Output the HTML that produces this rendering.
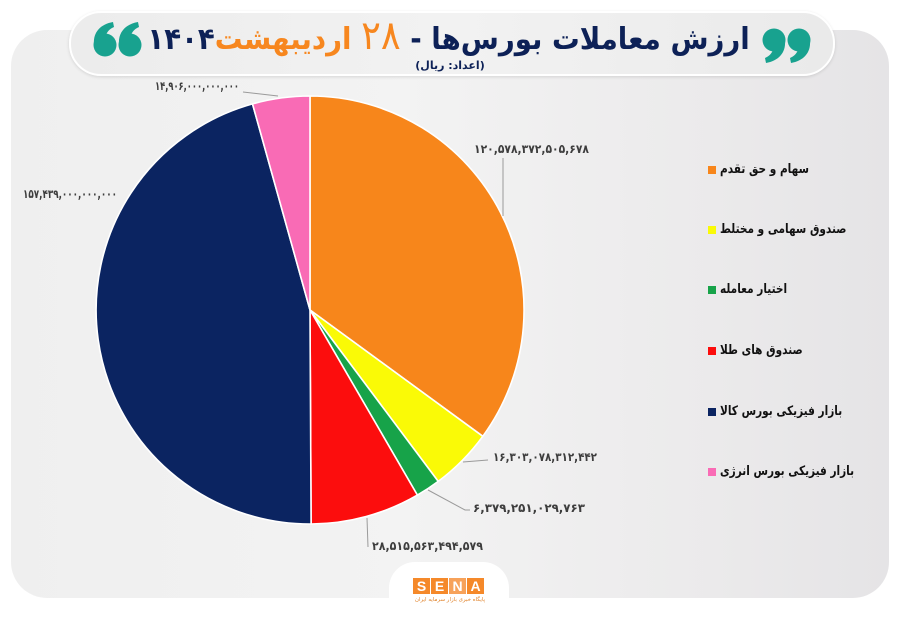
<!DOCTYPE html>
<html>
<head>
<meta charset="utf-8">
<style>
  html,body{margin:0;padding:0;background:#fff;}
  body{width:900px;height:623px;position:relative;overflow:hidden;font-family:"DejaVu Sans","Liberation Sans",sans-serif;}
  .card{position:absolute;left:11px;top:30px;width:878px;height:568px;border-radius:36px;
    background:linear-gradient(90deg,#efefef 0%,#f3f3f3 45%,#ebeaeb 80%,#e5e4e6 100%);}
  .pill{position:absolute;left:69px;top:11px;width:762px;height:61px;border-radius:32px;
    background:linear-gradient(90deg,#ececec,#f2f2f2 50%,#eaeaea);border:2px solid #fff;
    box-shadow:0 1px 3px rgba(0,0,0,0.12);}
  .title{position:absolute;right:150px;top:14px;direction:rtl;white-space:nowrap;
    font-weight:bold;font-size:30px;color:#0d2157;line-height:44px;
    transform:scaleX(0.92);transform-origin:right center;}
  .title .o{color:#f7871f;}
  .title .big{font-size:40px;font-weight:normal;color:#f7871f;}
  .sub{position:absolute;left:0;width:900px;top:59px;text-align:center;direction:rtl;
    font-size:11px;font-weight:bold;color:#0d2157;}
  .leg{position:absolute;left:708px;height:16px;white-space:nowrap;}
  .leg i{position:absolute;left:0;top:4px;width:8px;height:8px;}
  .leg span{position:absolute;left:12px;top:0;direction:rtl;font-size:13px;font-weight:bold;color:#111;line-height:16px;
    transform:scaleX(0.81);transform-origin:left center;}
  .logo{position:absolute;left:389px;top:562px;width:120px;height:70px;border-radius:26px;background:#fff;}
  .sena{position:absolute;top:578px;height:16px;width:17px;background:#f5892a;color:#fff;font-family:"Liberation Sans",sans-serif;
    font-weight:bold;font-size:14px;line-height:16px;text-align:center;}
  .tag{position:absolute;left:0;width:900px;top:597px;text-align:center;direction:rtl;font-size:5.5px;color:#e0822a;}
</style>
</head>
<body>
<div class="card"></div>
<div class="pill"></div>

<svg width="900" height="623" style="position:absolute;left:0;top:0">
  <!-- quote marks left (66) -->
  <g fill="#18a28f">
    <circle cx="105" cy="45" r="11.5"/>
    <path d="M94,44 C93,32 101,24 113,22 L114,27 C107,30 104,36 106,44 Z"/>
    <circle cx="130" cy="45" r="11.5"/>
    <path d="M119,44 C118,32 126,24 138,22 L139,27 C132,30 129,36 131,44 Z"/>
  </g>
  <!-- quote marks right (99) -->
  <g fill="#18a28f">
    <circle cx="774" cy="40" r="11.5"/>
    <path d="M785,41 C786,53 778,61 766,63 L765,58 C772,55 775,49 773,41 Z"/>
    <circle cx="799" cy="40" r="11.5"/>
    <path d="M810,41 C811,53 803,61 791,63 L790,58 C797,55 800,49 798,41 Z"/>
  </g>

  <!-- pie -->
  <g stroke="#fff" stroke-width="1.6" stroke-linejoin="round">
    <path d="M310,310 L310,96 A214,214 0 0 1 482.8,436.3 Z" fill="#f7861b"/>
    <path d="M310,310 L482.8,436.3 A214,214 0 0 1 438.2,481.4 Z" fill="#fafa06"/>
    <path d="M310,310 L438.2,481.4 A214,214 0 0 1 417.4,495.1 Z" fill="#17a349"/>
    <path d="M310,310 L417.4,495.1 A214,214 0 0 1 311.1,524 Z" fill="#fc0d0d"/>
    <path d="M310,310 L311.1,524 A214,214 0 0 1 252.5,103.9 Z" fill="#0b2461"/>
    <path d="M310,310 L252.5,103.9 A214,214 0 0 1 310,96 Z" fill="#f96bb5"/>
  </g>

  <!-- leader lines -->
  <g stroke="#9a9a9a" stroke-width="1" fill="none">
    <line x1="503" y1="158" x2="503" y2="216"/>
    <line x1="463" y1="462" x2="488" y2="460"/>
    <polyline points="428,490 465,510 470,510"/>
    <line x1="367" y1="518" x2="368" y2="547"/>
    <line x1="243" y1="92" x2="278" y2="96"/>
  </g>

  <!-- value labels -->
  <g font-family="DejaVu Sans, sans-serif" font-weight="bold" font-size="12" fill="#3d3d3d">
    <text x="474" y="153" textLength="115" lengthAdjust="spacingAndGlyphs">۱۲۰,۵۷۸,۳۷۲,۵۰۵,۶۷۸</text>
    <text x="493" y="461" textLength="104" lengthAdjust="spacingAndGlyphs">۱۶,۳۰۳,۰۷۸,۳۱۲,۴۴۲</text>
    <text x="473" y="512" textLength="112" lengthAdjust="spacingAndGlyphs">۶,۳۷۹,۲۵۱,۰۲۹,۷۶۳</text>
    <text x="372" y="550" textLength="111" lengthAdjust="spacingAndGlyphs">۲۸,۵۱۵,۵۶۳,۴۹۴,۵۷۹</text>
    <text x="23" y="198" textLength="94" lengthAdjust="spacingAndGlyphs">۱۵۷,۴۳۹,۰۰۰,۰۰۰,۰۰۰</text>
    <text x="155" y="90" textLength="84" lengthAdjust="spacingAndGlyphs">۱۴,۹۰۶,۰۰۰,۰۰۰,۰۰۰</text>
  </g>
</svg>

<div class="title">ارزش معاملات بورس‌ها - <span class="big">۲۸</span> <span class="o">اردیبهشت</span>۱۴۰۴</div>
<div class="sub">(اعداد: ریال)</div>

<div class="leg" style="top:162px"><i style="background:#f7861b"></i><span>سهام و حق تقدم</span></div>
<div class="leg" style="top:222px"><i style="background:#fafa06"></i><span>صندوق سهامی و مختلط</span></div>
<div class="leg" style="top:282px"><i style="background:#17a349"></i><span>&nbsp;اختیار معامله</span></div>
<div class="leg" style="top:343px"><i style="background:#fc0d0d"></i><span>صندوق های طلا</span></div>
<div class="leg" style="top:404px"><i style="background:#0b2461"></i><span>بازار فیزیکی بورس کالا</span></div>
<div class="leg" style="top:464px"><i style="background:#f96bb5"></i><span>بازار فیزیکی بورس انرژی</span></div>

<div class="logo"></div>
<div class="sena" style="left:413px">S</div>
<div class="sena" style="left:431px">E</div>
<div class="sena" style="left:449px;background:#f7a25a">N</div>
<div class="sena" style="left:467px">A</div>
<div class="tag">پایگاه خبری بازار سرمایه ایران</div>
</body>
</html>
